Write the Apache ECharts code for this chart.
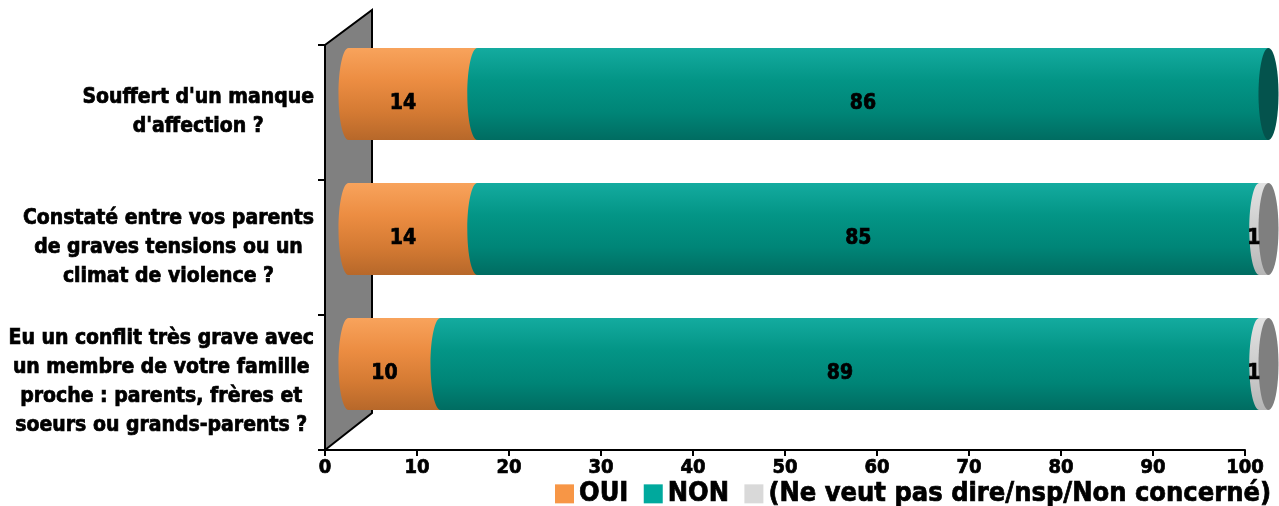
<!DOCTYPE html>
<html><head><meta charset="utf-8">
<script src="https://cdn.jsdelivr.net/npm/echarts@6/dist/echarts.min.js"></script>
<style>html,body{margin:0;padding:0;background:#fff}#c{width:1279px;height:506px}</style>
</head><body><div id="c"></div>
<script>
// ---- data ----
const categories = [
  "Souffert d'un manque\nd'affection ?",
  "Constaté entre vos parents\nde graves tensions ou un\nclimat de violence ?",
  "Eu un conflit très grave avec\nun membre de votre famille\nproche : parents, frères et\nsoeurs ou grands-parents ?"
];
const seriesNames = ["OUI", "NON", "(Ne veut pas dire/nsp/Non concerné)"];
const oui = [14, 14, 10];
const non = [86, 85, 89];
const nsp = [0, 1, 1];
const axisMin = 0, axisMax = 100, axisStep = 10;

// ---- style ----
const FONT = "'DejaVu Sans Condensed', 'DejaVu Sans', sans-serif";
const TB = 0.7; // extra text weight
const DX = 23.5, DY = -18.5, RX = 10, BAR_RATIO = 0.68;
const palettes = [
  {stops: ['#F8A35C', '#EC8D42', '#D47A33', '#B7682A'], legend: '#F79646', cap: '#A85E24'},
  {stops: ['#14AB9F', '#039586', '#008577', '#006C61'], legend: '#00A99D', cap: '#04534D'},
  {stops: ['#E2E2E2', '#D3D3D3', '#C6C6C6', '#B5B5B5'], legend: '#D9D9D9', cap: '#7F7F7F'}
];
const values = [oui, non, nsp];

function grad(p) {
  return new echarts.graphic.LinearGradient(0, 0, 0, 1, [
    {offset: 0, color: p.stops[0]}, {offset: 0.35, color: p.stops[1]},
    {offset: 0.7, color: p.stops[2]}, {offset: 1, color: p.stops[3]}
  ]);
}

// build stacked data
const seriesData = values.map(() => []);
categories.forEach((c, ci) => {
  let lastIdx = -1;
  values.forEach((arr, si) => { if (arr[ci] > 0) lastIdx = si; });
  let start = 0;
  values.forEach((arr, si) => {
    seriesData[si].push([ci, start, arr[ci], si === lastIdx ? 1 : 0]);
    start += arr[ci];
  });
});

function makeRender(si) {
  const p = palettes[si];
  return function (params, api) {
    const cat = api.value(0), start = api.value(1), val = api.value(2), last = api.value(3);
    if (!val) return null;
    const p0 = api.coord([start, cat]);
    const p1 = api.coord([start + val, cat]);
    const band = api.size([0, 1])[1];
    const h = band * BAR_RATIO;
    const cy = p0[1] + DY;
    const x0 = p0[0] + DX, x1 = p1[0] + DX;
    const children = [
      {type: 'ellipse', shape: {cx: x0, cy: cy, rx: RX, ry: h / 2}, style: {fill: grad(p)}},
      {type: 'rect', shape: {x: x0, y: cy - h / 2, width: x1 - x0, height: h}, style: {fill: grad(p)}}
    ];
    if (last) {
      children.push({type: 'ellipse', shape: {cx: x1, cy: cy, rx: RX, ry: h / 2}, style: {fill: p.cap}});
    }
    children.push({
      type: 'text', z2: 10,
      style: {
        text: String(val), x: (p0[0] + p1[0]) / 2 + DX - RX, y: p0[1] - 9,
        align: 'center', verticalAlign: 'middle',
        font: 'bold 21px ' + FONT, fill: '#000', stroke: '#000', lineWidth: TB
      }
    });
    return {type: 'group', children: children};
  };
}

const chart = echarts.init(document.getElementById('c'), null, {renderer: 'canvas'});
const option = {
  animation: false,
  backgroundColor: '#fff',
  grid: {left: 325, right: 34, top: 45, bottom: 56, containLabel: false},
  legend: {
    left: 555, top: 480, width: 760, padding: 0,
    itemWidth: 19, itemHeight: 19, itemGap: 15, icon: 'rect',
    textStyle: {fontFamily: FONT, fontWeight: 'bold', fontSize: 27, color: '#000',
      textBorderColor: '#000', textBorderWidth: TB},
    data: seriesNames
  },
  xAxis: {
    type: 'value', min: axisMin, max: axisMax, interval: axisStep,
    splitLine: {show: false},
    axisLine: {show: true, lineStyle: {color: '#000', width: 2}},
    axisTick: {show: true, length: 6, lineStyle: {color: '#000', width: 2}},
    axisLabel: {margin: 8, color: '#000', fontFamily: FONT, fontWeight: 'bold', fontSize: 20,
      textBorderColor: '#000', textBorderWidth: TB}
  },
  yAxis: {
    type: 'category', data: categories, inverse: true,
    axisLine: {show: true, lineStyle: {color: '#000', width: 2}},
    axisTick: {show: true, length: 7, lineStyle: {color: '#000', width: 2}},
    axisLabel: {
      margin: 11, align: 'right', color: '#000',
      formatter: v => v.split('\n').map(l => '{c|' + l + '}').join('\n'),
      rich: {c: {align: 'center', fontFamily: FONT, fontWeight: 'bold', fontSize: 21, lineHeight: 29,
        color: '#000', textBorderColor: '#000', textBorderWidth: TB}}
    }
  },
  series: seriesNames.map((name, si) => ({
    name: name, type: 'custom', coordinateSystem: 'cartesian2d',
    itemStyle: {color: palettes[si].legend},
    encode: {x: [1, 2], y: 0},
    renderItem: makeRender(si),
    data: seriesData[si], z: 3 + si
  }))
};
chart.setOption(option);

// back wall, derived from the grid rectangle
const rect = chart.getModel().getComponent('grid', 0).coordinateSystem.getRect();
const depthX = 47, depthTop = 35, depthBot = 37;
chart.setOption({
  graphic: [{
    type: 'polygon', z: 1,
    shape: {points: [
      [rect.x, rect.y + rect.height], [rect.x, rect.y],
      [rect.x + depthX, rect.y - depthTop], [rect.x + depthX, rect.y + rect.height - depthBot]
    ]},
    style: {fill: '#808080', stroke: '#000', lineWidth: 2, lineJoin: 'miter'}
  }]
});
</script>
</body></html>
